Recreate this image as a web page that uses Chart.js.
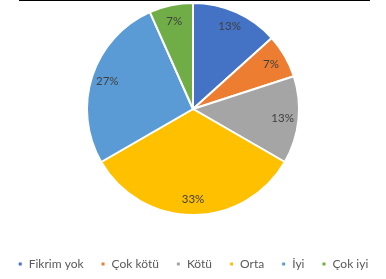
<!DOCTYPE html>
<html><head><meta charset="utf-8">
<script src="https://cdn.jsdelivr.net/npm/chart.js@4"></script>
<style>
html,body{margin:0;padding:0;background:#fff;}
#wrap{position:relative;width:386px;height:279px;}
#topline{position:absolute;left:19px;top:0;width:351px;height:1px;background:#000;}
</style></head>
<body><div id="wrap"><canvas id="c" width="386" height="279"></canvas><div id="topline"></div></div>
<script>
const categories = ["Fikrim yok", "Çok kötü", "Kötü", "Orta", "İyi", "Çok iyi"];
const counts = [2, 1, 2, 5, 4, 1];
const colors = ["#4472C4", "#ED7D31", "#A5A5A5", "#FFC000", "#5B9BD5", "#70AD47"];

const labelPlugin = {
  id: 'pctLabels',
  afterDatasetsDraw(chart) {
    const ctx = chart.ctx;
    const meta = chart.getDatasetMeta(0);
    const data = chart.data.datasets[0].data;
    const total = data.reduce((a, b) => a + b, 0);
    ctx.save();
    ctx.font = '11.5px Lato, "DejaVu Sans", sans-serif';
    ctx.fillStyle = '#404040';
    ctx.textAlign = 'center';
    ctx.textBaseline = 'middle';
    meta.data.forEach((arc, i) => {
      const p = arc.getProps(['x', 'y', 'startAngle', 'endAngle', 'outerRadius']);
      const mid = (p.startAngle + p.endAngle) / 2;
      const r = p.outerRadius * 0.85;
      const x = p.x + Math.cos(mid) * r;
      const y = p.y + Math.sin(mid) * r;
      ctx.fillText(Math.round(data[i] / total * 100) + '%', x, y);
    });
    ctx.restore();
  }
};

new Chart(document.getElementById('c'), {
  type: 'pie',
  data: {
    labels: categories,
    datasets: [{ data: counts, backgroundColor: colors, borderColor: '#fff', borderWidth: 2 }]
  },
  options: {
    responsive: false,
    animation: false,
    layout: { padding: { top: 2, bottom: -1 } },
    plugins: {
      tooltip: { enabled: false },
      legend: {
        position: 'bottom',
        title: { display: true, text: ' ', font: { size: 10 }, padding: 6.5 },
        labels: {
          boxWidth: 5, boxHeight: 5, padding: 17,
          color: '#595959',
          font: { family: 'Lato, "DejaVu Sans", sans-serif', size: 12 }
        }
      }
    }
  },
  plugins: [labelPlugin]
});
</script></body></html>
